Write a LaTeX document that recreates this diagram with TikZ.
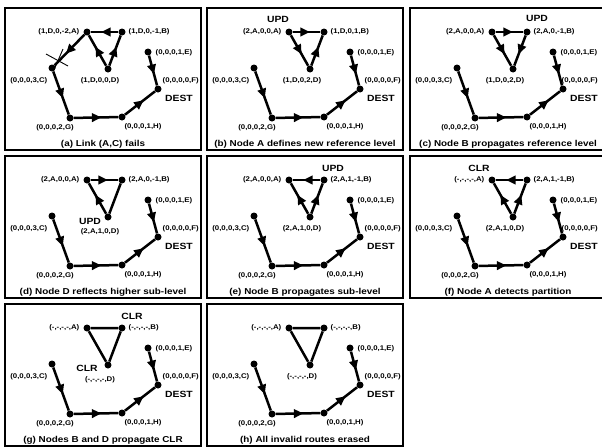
\documentclass[tikz,border=0pt]{standalone}
\usepackage{fontspec}
\newfontfamily\lblfont[FakeStretch=1.15]{Liberation Sans}
\usetikzlibrary{arrows.meta,decorations.markings}

\tikzset{
  pt/.style={circle, fill=black, inner sep=0pt, minimum size=7pt},
  lbl/.style={font=\lblfont\bfseries\fontsize{6.8}{8}\selectfont, inner sep=0.5pt},
  tagtxt/.style={font=\lblfont\bfseries\fontsize{9}{10}\selectfont, inner sep=0pt},
  captxt/.style={font=\lblfont\bfseries\fontsize{8.6}{10}\selectfont, inner sep=0pt},
  panelline/.style={line width=1.1pt},
  link/.style={line width=2.5pt},
  fwd/.style={link, postaction={decorate},
    decoration={markings, mark=at position 0.62 with {\arrow{Triangle[length=9.5pt,width=8.5pt]}}}},
  brk/.style={line width=0.9pt},
}

% horizontal position of the label of F (moved left in the last column)
\newcommand\flabelx{157}

% lower part of the network, identical in every panel
\newcommand\netbase{%
  \node[pt] (C) at (47,60) {};
  \node[pt] (G) at (65,110) {};
  \node[pt] (H) at (117,109) {};
  \node[pt] (F) at (153,81) {};
  \node[pt] (E) at (143,44) {};
  \node[lbl,anchor=east] (lC) at (43,73) {(0,0,0,3,C)};
  \node[lbl] (lG) at (50,120) {(0,0,0,2,G)};
  \node[lbl] (lH) at (138,119) {(0,0,0,1,H)};
  \node[lbl,anchor=west] (lE) at (150,45) {(0,0,0,1,E)};
  \node[lbl,anchor=west] (lF) at (\flabelx,73) {(0,0,0,0,F)};
  \node[tagtxt,anchor=west] (dest) at (160,90) {DEST};
  \draw[fwd] (C) -- (G);
  \draw[fwd] (G) -- (H);
  \draw[fwd] (H) -- (F);
  \draw[fwd] (E) -- (F);
}

% nodes A, B, D with their heights; #4 = vertical position of D's label
\newcommand\trinodes[4]{%
  \node[pt] (A) at (82,24) {};
  \node[pt] (B) at (117,24) {};
  \node[pt] (D) at (103,61) {};
  \node[lbl,anchor=east] (lA) at (75,24) {#1};
  \node[lbl,anchor=west] (lB) at (123,24) {#2};
  \node[lbl] (lD) at (95,#4) {#3};
}

\newcommand\panelframe{\draw[panelline] (0,0) rectangle (196,142);}

\begin{document}
\begin{tikzpicture}[x=1pt,y=-1pt]
  \useasboundingbox (0,0) rectangle (602,447);
  \clip (0,0) rectangle (602,447);

  % (a)
  \begin{scope}[shift={(5,8)}, name prefix=a-]
    \panelframe
    \netbase
    \trinodes{(1,D,0,-2,A)}{(1,D,0,-1,B)}{(1,D,0,0,D)}{73}
    \draw[fwd] (B) -- (A);
    \draw[fwd] (D) -- (A);
    \draw[fwd] (D) -- (B);
    \draw[fwd] (A) -- (C);
    \draw[brk] (41,46) -- (63,58);
    \draw[brk] (49,62) -- (58,41);
    \node[captxt] (caption) at (98,136) {(a) Link (A,C) fails};
  \end{scope}

  % (b)
  \begin{scope}[shift={(207,8)}, name prefix=b-]
    \panelframe
    \netbase
    \trinodes{(2,A,0,0,A)}{(1,D,0,1,B)}{(1,D,0,2,D)}{73}
    \draw[fwd] (A) -- (B);
    \draw[fwd] (A) -- (D);
    \draw[fwd] (D) -- (B);
    \node[tagtxt] (upd) at (71,11) {UPD};
    \node[captxt] (caption) at (98,136) {(b) Node A defines new reference level};
  \end{scope}

  % (c)
  \begin{scope}[shift={(410,8)}, name prefix=c-]
    \renewcommand\flabelx{151}
    \panelframe
    \netbase
    \trinodes{(2,A,0,0,A)}{(2,A,0,-1,B)}{(1,D,0,2,D)}{73}
    \draw[fwd] (A) -- (B);
    \draw[fwd] (A) -- (D);
    \draw[fwd] (B) -- (D);
    \node[tagtxt] (upd) at (127,10) {UPD};
    \node[captxt] (caption) at (98,136) {(c) Node B propagates reference level};
  \end{scope}

  % (d)
  \begin{scope}[shift={(5,156)}, name prefix=d-]
    \panelframe
    \netbase
    \trinodes{(2,A,0,0,A)}{(2,A,0,-1,B)}{(2,A,1,0,D)}{76}
    \draw[fwd] (A) -- (B);
    \draw[fwd] (D) -- (A);
    \draw[link] (D) -- (B);
    \node[tagtxt] (upd) at (85,65) {UPD};
    \node[captxt] (caption) at (98,136) {(d) Node D reflects higher sub-level};
  \end{scope}

  % (e)
  \begin{scope}[shift={(207,156)}, name prefix=e-]
    \panelframe
    \netbase
    \trinodes{(2,A,0,0,A)}{(2,A,1,-1,B)}{(2,A,1,0,D)}{73}
    \draw[fwd] (B) -- (A);
    \draw[fwd] (D) -- (A);
    \draw[fwd] (D) -- (B);
    \node[tagtxt] (upd) at (126,12) {UPD};
    \node[captxt] (caption) at (98,136) {(e) Node B propagates sub-level};
  \end{scope}

  % (f)
  \begin{scope}[shift={(410,156)}, name prefix=f-]
    \renewcommand\flabelx{151}
    \panelframe
    \netbase
    \trinodes{(-,-,-,-,A)}{(2,A,1,-1,B)}{(2,A,1,0,D)}{73}
    \draw[fwd] (B) -- (A);
    \draw[fwd] (D) -- (A);
    \draw[fwd] (D) -- (B);
    \node[tagtxt] (clr) at (69,12) {CLR};
    \node[captxt] (caption) at (98,136) {(f) Node A detects partition};
  \end{scope}

  % (g)
  \begin{scope}[shift={(5,304)}, name prefix=g-]
    \panelframe
    \netbase
    \trinodes{(-,-,-,-,A)}{(-,-,-,-,B)}{(-,-,-,-,D)}{76}
    \draw[link] (A) -- (B) -- (D) -- (A);
    \node[tagtxt] (clrB) at (127,12) {CLR};
    \node[tagtxt] (clrD) at (82,64) {CLR};
    \node[captxt] (caption) at (98,136) {(g) Nodes B and D propagate CLR};
  \end{scope}

  % (h)
  \begin{scope}[shift={(207,304)}, name prefix=h-]
    \panelframe
    \netbase
    \trinodes{(-,-,-,-,A)}{(-,-,-,-,B)}{(-,-,-,-,D)}{73}
    \draw[link] (A) -- (B) -- (D) -- (A);
    \node[captxt] (caption) at (98,136) {(h) All invalid routes erased};
  \end{scope}
\end{tikzpicture}
\end{document}
